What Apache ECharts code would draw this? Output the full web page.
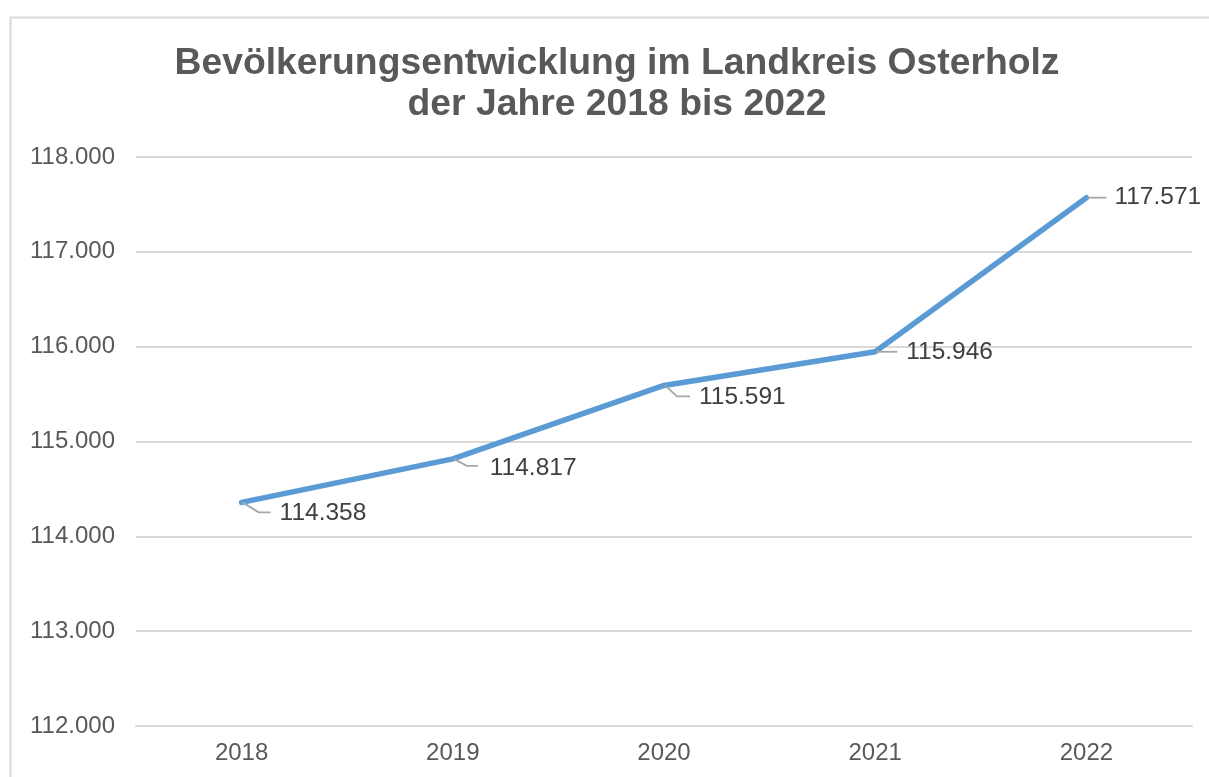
<!DOCTYPE html>
<html>
<head>
<meta charset="utf-8">
<script src="https://cdn.jsdelivr.net/npm/echarts@6/dist/echarts.min.js"></script>
<style>
html,body{margin:0;padding:0;background:#fff;}
#chart{width:1209px;height:777px;}
</style>
</head>
<body>
<div id="chart"></div>
<script>
const titleLines = ['Bevölkerungsentwicklung im Landkreis Osterholz', 'der Jahre 2018 bis 2022'];
const years = ['2018', '2019', '2020', '2021', '2022'];
const population = [114358, 114817, 115591, 115946, 117571];
const yMin = 112000, yMax = 118000, yStep = 1000;

// leader-line styling per label: [bendDx, bendDy, endDx, endDy, textDx, textDy]
const leaderStyle = [
  [17, 10, 29, 10, 38, 11],
  [14, 7, 25, 7, 37, 9],
  [13, 11, 26, 11, 35, 12],
  [11, 0, 22, 0, 31, 0],
  [10, 0, 20, 0, 28, 0]
];

function fmt(v) {
  return String(v).replace(/\B(?=(\d{3})+(?!\d))/g, '.');
}

const FONT = '"Liberation Sans", Arial, sans-serif';
const chart = echarts.init(document.getElementById('chart'), null, {renderer: 'canvas'});

chart.setOption({
  backgroundColor: '#ffffff',
  animation: false,
  title: {
    text: titleLines.join('\n'),
    left: 612,
    textAlign: 'center',
    top: 38,
    textStyle: {
      fontFamily: FONT,
      fontWeight: 'bold',
      fontSize: 37.3,
      lineHeight: 41,
      color: '#595959'
    }
  },
  graphic: [{
    type: 'rect',
    shape: {x: 10.5, y: 17.5, width: 1400, height: 1000},
    style: {fill: 'none', stroke: '#d9d9d9', lineWidth: 2},
    silent: true,
    z: -10
  }],
  grid: {left: 136, right: 17, top: 157, bottom: 51},
  xAxis: {
    type: 'category',
    data: years,
    boundaryGap: true,
    axisLine: {show: true, lineStyle: {color: '#d9d9d9', width: 2}},
    axisTick: {show: false},
    axisLabel: {
      fontFamily: FONT, fontSize: 24, color: '#595959', margin: 15
    }
  },
  yAxis: {
    type: 'value',
    min: yMin, max: yMax, interval: yStep,
    axisLine: {show: false},
    axisTick: {show: false},
    splitLine: {lineStyle: {color: '#d9d9d9', width: 2}},
    axisLabel: {
      fontFamily: FONT, fontSize: 24, color: '#595959', margin: 21,
      formatter: fmt
    }
  },
  series: [
    {
      type: 'line',
      data: population,
      symbol: 'none',
      lineStyle: {color: '#5b9bd5', width: 5.5, cap: 'round', join: 'round'},
      z: 3
    },
    {
      type: 'custom',
      data: population.map((v, i) => [i, v]),
      z: 4,
      renderItem: function (params, api) {
        const p = api.coord([api.value(0), api.value(1)]);
        const s = leaderStyle[params.dataIndex];
        return {
          type: 'group',
          children: [
            {
              type: 'polyline',
              shape: {points: [[p[0] + 1, p[1]], [p[0] + s[0], p[1] + s[1]], [p[0] + s[2], p[1] + s[3]]]},
              style: {stroke: '#a6a6a6', lineWidth: 1.8, fill: 'none'}
            },
            {
              type: 'text',
              x: p[0] + s[4],
              y: p[1] + s[5],
              style: {
                text: fmt(api.value(1)),
                fontFamily: FONT,
                fontSize: 24.5,
                fill: '#404040',
                align: 'left',
                verticalAlign: 'middle'
              }
            }
          ]
        };
      }
    }
  ]
});
</script>
</body>
</html>
